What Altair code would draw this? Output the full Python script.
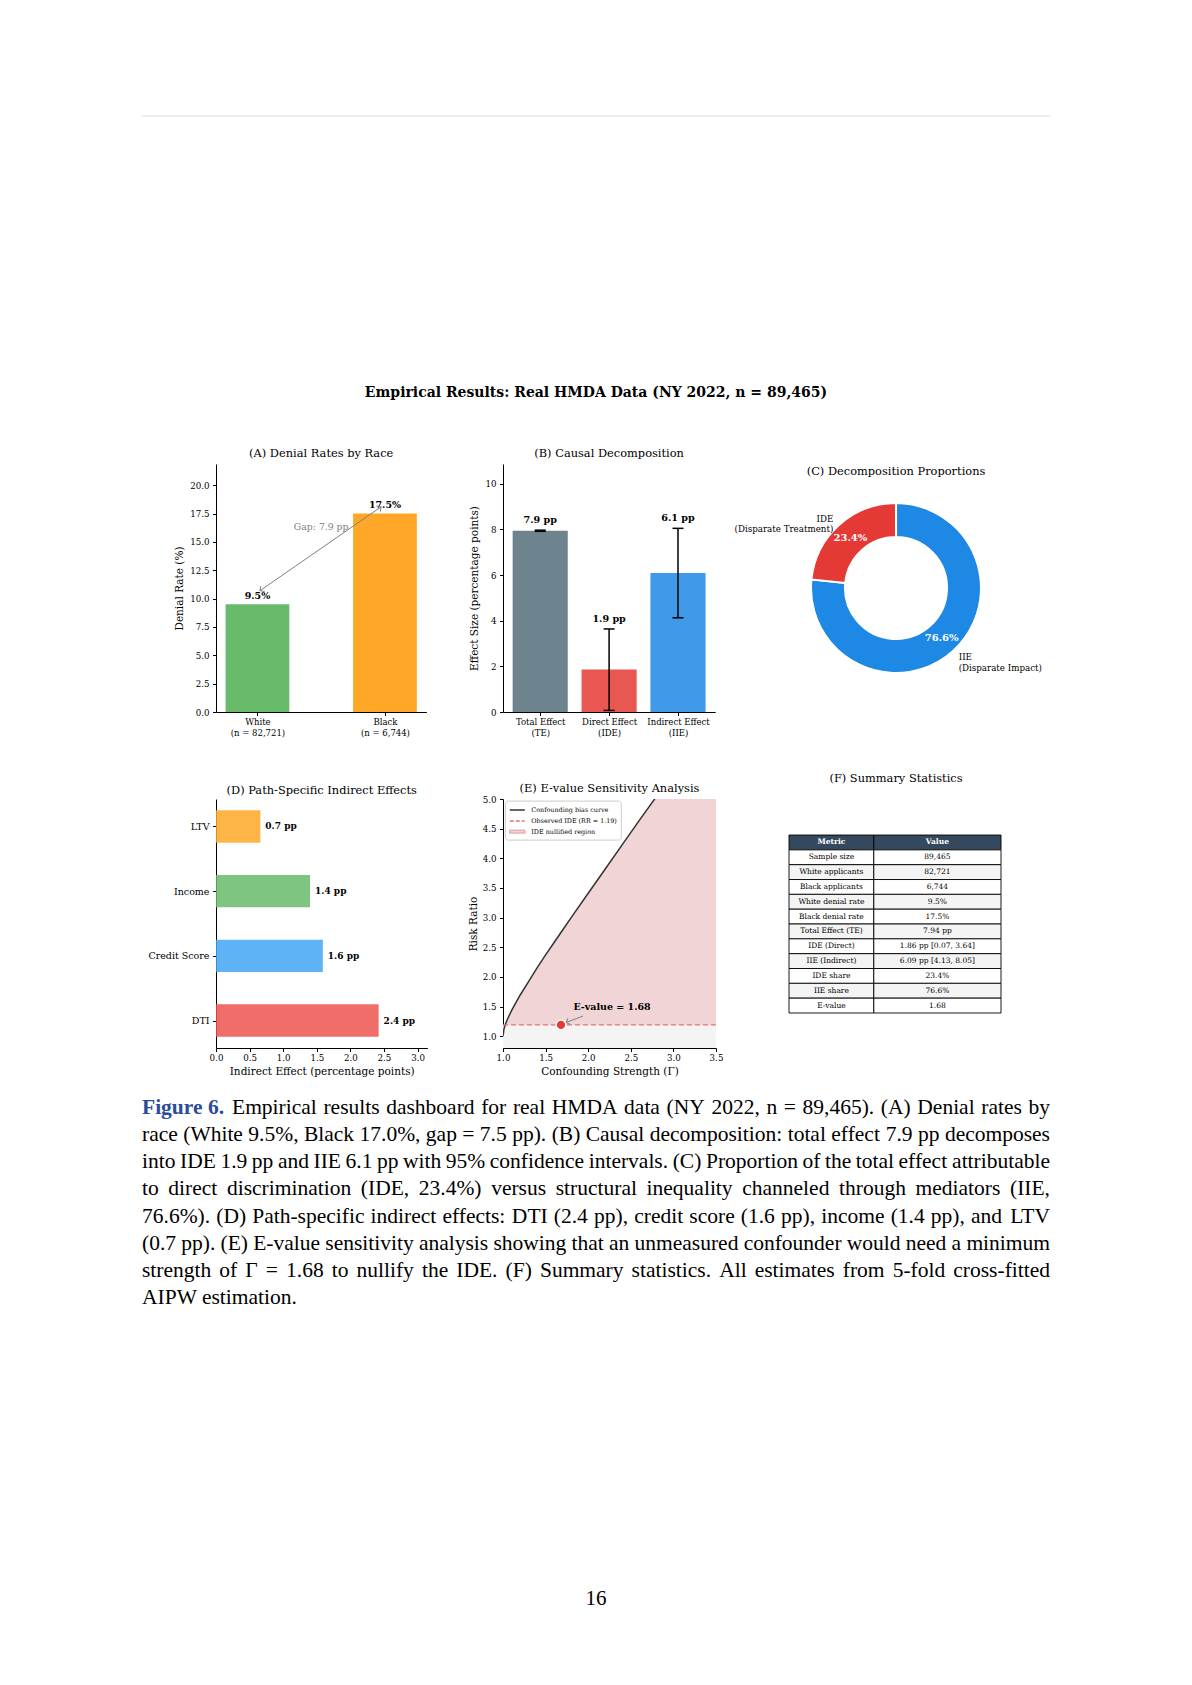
import altair as alt
import pandas as pd

FONT = "DejaVu Serif"
CAP_FONT = "Liberation Serif"
SMALL = 8.7

# ----------------------------- data -----------------------------
main_title = "Empirical Results: Real HMDA Data (NY 2022, n = 89,465)"

# (A) denial rates
races = ["White", "Black"]
race_counts = ["(n = 82,721)", "(n = 6,744)"]
denial_rates = [9.5, 17.5]
race_colors = ["#4CAF50", "#FF9800"]
gap_label = "Gap: 7.9 pp"
gap_arrow_x = [0.02, 0.97]
gap_arrow_y = [10.7, 18.1]
gap_label_xy = [0.5, 16.3]

# (B) causal decomposition
effect_names = ["Total Effect", "Direct Effect", "Indirect Effect"]
effect_codes = ["(TE)", "(IDE)", "(IIE)"]
effect_vals = [7.94, 1.86, 6.09]
effect_lo = [7.92, 0.07, 4.13]
effect_hi = [7.97, 3.64, 8.05]
effect_colors = ["#546E7A", "#E53935", "#1E88E5"]

# (C) proportions
share_names = ["IIE\n(Disparate Impact)", "IDE\n(Disparate Treatment)"]
share_vals = [76.6, 23.4]
share_colors = ["#1E88E5", "#E53935"]

# (D) path-specific effects (bottom to top)
path_names = ["DTI", "Credit Score", "Income", "LTV"]
path_vals = [2.42, 1.59, 1.40, 0.66]
path_colors = ["#EF5350", "#42A5F5", "#66BB6A", "#FFA726"]

# (E) E-value sensitivity (curve)
gamma = [1.0, 1.01, 1.03, 1.06, 1.10, 1.15, 1.20, 1.30, 1.40, 1.50, 1.60,
         1.70, 1.80, 2.00, 2.20, 2.40, 2.60, 2.80, 3.00, 3.20, 3.50]
bias = [1.00, 1.11, 1.21, 1.31, 1.43, 1.56, 1.69, 1.92, 2.15, 2.37, 2.58,
        2.79, 3.00, 3.41, 3.82, 4.23, 4.64, 5.04, 5.45, 5.86, 6.46]
rr_obs = 1.19
e_value = 1.68
legend_items = ["Confounding bias curve", "Observed IDE (RR = 1.19)", "IDE nullified region"]
evalue_label = "E-value = 1.68"
evalue_label_xy = [2.28, 1.49]
evalue_arrow = [1.94, 1.34, 1.74, 1.23]

# (F) summary table
table_header = ["Metric", "Value"]
metrics = ["Sample size", "White applicants", "Black applicants", "White denial rate",
           "Black denial rate", "Total Effect (TE)", "IDE (Direct)", "IIE (Indirect)",
           "IDE share", "IIE share", "E-value"]
metric_values = ["89,465", "82,721", "6,744", "9.5%", "17.5%", "7.94 pp",
                 "1.86 pp [0.07, 3.64]", "6.09 pp [4.13, 8.05]", "23.4%", "76.6%", "1.68"]

# caption
caption_label = "Figure 6."
caption_lines = [
    "Empirical results dashboard for real HMDA data (NY 2022, n = 89,465). (A) Denial rates by",
    "race (White 9.5%, Black 17.0%, gap = 7.5 pp). (B) Causal decomposition: total effect 7.9 pp decomposes",
    "into IDE 1.9 pp and IIE 6.1 pp with 95% confidence intervals. (C) Proportion of the total effect attributable",
    "to direct discrimination (IDE, 23.4%) versus structural inequality channeled through mediators (IIE,",
    "76.6%). (D) Path-specific indirect effects: DTI (2.4 pp), credit score (1.6 pp), income (1.4 pp), and LTV",
    "(0.7 pp). (E) E-value sensitivity analysis showing that an unmeasured confounder would need a minimum",
    "strength of \u0393 = 1.68 to nullify the IDE. (F) Summary statistics. All estimates from 5-fold cross-fitted",
    "AIPW estimation.",
]
page_number = "16"

CHEV = "M -1 1 L 0 0 L 1 1"
LEG_LINE = "M -1.5 0 L 1.5 0"
LEG_RECT = "M -1.5 -0.28 L 1.5 -0.28 L 1.5 0.28 L -1.5 0.28 Z"

# Times-compatible advance widths (per 1000 em), used only to justify the caption lines
TIMES_W = {" ": 250, "!": 333, "%": 833, "(": 333, ")": 333, ",": 250, "-": 333, ".": 250,
           ":": 278, ";": 278, "=": 564, "[": 333, "]": 333, "\u0393": 578,
           "A": 722, "B": 667, "C": 667, "D": 722, "E": 611, "F": 556, "G": 722, "H": 722,
           "I": 333, "J": 389, "K": 722, "L": 611, "M": 889, "N": 722, "O": 722, "P": 556,
           "Q": 722, "R": 667, "S": 556, "T": 611, "U": 722, "V": 722, "W": 944, "X": 722,
           "Y": 722, "Z": 611, "a": 444, "b": 500, "c": 444, "d": 500, "e": 444, "f": 333,
           "g": 500, "h": 500, "i": 278, "j": 278, "k": 500, "l": 278, "m": 778, "n": 500,
           "o": 500, "p": 500, "q": 500, "r": 333, "s": 389, "t": 278, "u": 500, "v": 500,
           "w": 722, "x": 500, "y": 500, "z": 444}


# ----------------------------- helpers -----------------------------
def axis(**kw):
    base = dict(grid=False, labelFlush=False, labelOverlap=False)
    base.update(kw)
    return alt.Axis(**base)


def cat_expr(lines_list):
    expr = "''"
    for i in reversed(range(len(lines_list))):
        arr = "[" + ", ".join("'" + s + "'" for s in lines_list[i]) + "]"
        expr = f"datum.value == {i} ? {arr} : ({expr})"
    return expr


def ptitle(text, offset):
    return alt.TitleParams(text=text, font=FONT, fontSize=11.4, fontWeight="normal",
                           color="black", anchor="middle", offset=offset, baseline="alphabetic")


def spacer(w, h):
    return alt.Chart(pd.DataFrame({"k": [0]})).mark_point(opacity=0, size=0).encode(
        x=alt.value(0), y=alt.value(0)).properties(width=w, height=h)


def text_width(s, size):
    return sum(TIMES_W.get(ch, 500) for ch in s) / 1000.0 * size


# ----------------------------- (A) -----------------------------
wA, hA = 210.4, 248
dfA = pd.DataFrame({"pos": [0.0, 1.0], "rate": denial_rates, "color": race_colors,
                    "label": [f"{v:.1f}%" for v in denial_rates]})
dfA["x1"] = dfA["pos"] - 0.25
dfA["x2"] = dfA["pos"] + 0.25
dfA["zero"] = 0.0
xA = alt.Scale(domain=[-0.325, 1.325], nice=False, zero=False)
yA = alt.Scale(domain=[0, 21.875], nice=False)
axA_x = axis(values=[0, 1], labelExpr=cat_expr([[r, c] for r, c in zip(races, race_counts)]),
             title=None, labelFontSize=8.5, labelLineHeight=10.5, labelPadding=2)
axA_y = axis(values=[0, 2.5, 5, 7.5, 10, 12.5, 15, 17.5, 20], format=".1f",
             title="Denial Rate (%)", titlePadding=5)
XA = lambda f: alt.X(f, scale=xA, axis=axA_x)
YA = lambda f: alt.Y(f, scale=yA, axis=axA_y)

barsA = alt.Chart(dfA).mark_rect(opacity=0.85).encode(
    x=XA("x1:Q"), x2="x2:Q", y=YA("zero:Q"), y2="rate:Q", color=alt.Color("color:N", scale=None))
textA = alt.Chart(dfA).mark_text(font=FONT, fontWeight="bold", fontSize=9.5, baseline="alphabetic", dy=-5.5).encode(
    x=XA("pos:Q"), y=YA("rate:Q"), text="label:N")
dfGap = pd.DataFrame({"x1": [gap_arrow_x[0]], "x2": [gap_arrow_x[1]],
                      "y1": [gap_arrow_y[0]], "y2": [gap_arrow_y[1]]})
gapLine = alt.Chart(dfGap).mark_rule(color="#808080", strokeWidth=1).encode(
    x=XA("x1:Q"), x2="x2:Q", y=YA("y1:Q"), y2="y2:Q")
dfHeads = pd.DataFrame({"x": gap_arrow_x, "y": gap_arrow_y, "ang": [235, 55]})
gapHeads = alt.Chart(dfHeads).mark_point(shape=CHEV, filled=False, size=45, strokeWidth=1,
                                         color="#808080", opacity=1).encode(
    x=XA("x:Q"), y=YA("y:Q"), angle=alt.Angle("ang:Q", scale=None))
gapText = alt.Chart(pd.DataFrame({"x": [gap_label_xy[0]], "y": [gap_label_xy[1]], "t": [gap_label]})).mark_text(
    font=FONT, fontSize=9.3, color="#808080", baseline="middle").encode(x=XA("x:Q"), y=YA("y:Q"), text="t:N")
chartA = alt.layer(barsA, textA, gapLine, gapHeads, gapText).properties(
    width=wA, height=hA, title=ptitle("(A) Denial Rates by Race", -4))

# ----------------------------- (B) -----------------------------
wB, hB = 212.2, 248
dfB = pd.DataFrame({"pos": [0.0, 1.0, 2.0], "val": effect_vals, "lo": effect_lo, "hi": effect_hi,
                    "color": effect_colors, "label": [f"{v:.1f} pp" for v in effect_vals]})
dfB["x1"] = dfB["pos"] - 0.4
dfB["x2"] = dfB["pos"] + 0.4
dfB["zero"] = 0.0
xB = alt.Scale(domain=[-0.54, 2.54], nice=False, zero=False)
yB = alt.Scale(domain=[0, 10.87], nice=False)
axB_x = axis(values=[0, 1, 2], labelExpr=cat_expr([[n, c] for n, c in zip(effect_names, effect_codes)]),
             title=None, labelFontSize=8.5, labelLineHeight=10.5, labelPadding=2)
axB_y = axis(values=[0, 2, 4, 6, 8, 10], format="d", title="Effect Size (percentage points)", titlePadding=5.5)
XB = lambda f: alt.X(f, scale=xB, axis=axB_x)
YB = lambda f: alt.Y(f, scale=yB, axis=axB_y)
barsB = alt.Chart(dfB).mark_rect(opacity=0.85).encode(
    x=XB("x1:Q"), x2="x2:Q", y=YB("zero:Q"), y2="val:Q", color=alt.Color("color:N", scale=None))
errB = alt.Chart(dfB).mark_rule(color="black", strokeWidth=1.5).encode(x=XB("pos:Q"), y=YB("lo:Q"), y2="hi:Q")
capLo = alt.Chart(dfB).mark_point(shape="stroke", size=121, strokeWidth=1.5, color="black", opacity=1).encode(
    x=XB("pos:Q"), y=YB("lo:Q"))
capHi = alt.Chart(dfB).mark_point(shape="stroke", size=121, strokeWidth=1.5, color="black", opacity=1).encode(
    x=XB("pos:Q"), y=YB("hi:Q"))
textB = alt.Chart(dfB).mark_text(font=FONT, fontWeight="bold", fontSize=9.6, baseline="alphabetic", dy=-7).encode(
    x=XB("pos:Q"), y=YB("hi:Q"), text="label:N")
chartB = alt.layer(barsB, errB, capLo, capHi, textB).properties(
    width=wB, height=hB, title=ptitle("(B) Causal Decomposition", -4))

# ----------------------------- (C) -----------------------------
wC, hC = 248, 248
dfC = pd.DataFrame({"name": share_names, "val": share_vals, "ord": [0, 1], "color": share_colors,
                    "pct": [f"{v:.1f}%" for v in share_vals]})
dfC["lab_left"] = [share_names[0], ""]
dfC["lab_right"] = ["", share_names[1]]
baseC = alt.Chart(dfC).encode(theta=alt.Theta("val:Q", stack=True), order=alt.Order("ord:Q"))
arcs = baseC.mark_arc(outerRadius=85, innerRadius=51, stroke="white", strokeWidth=2).encode(
    color=alt.Color("color:N", scale=None))
pctC = baseC.mark_text(radius=68, font=FONT, fontWeight="bold", fontSize=10, color="white").encode(text="pct:N")
labL = baseC.mark_text(radius=93.5, font=FONT, fontSize=SMALL, align="left", baseline="middle",
                       lineBreak="\n", lineHeight=10.5).encode(text="lab_left:N")
labR = baseC.mark_text(radius=93.5, font=FONT, fontSize=SMALL, align="right", baseline="middle",
                       lineBreak="\n", lineHeight=10.5).encode(text="lab_right:N")
chartC = alt.layer(arcs, pctC, labL, labR).properties(
    width=wC, height=hC, title=ptitle("(C) Decomposition Proportions", -22))

# ----------------------------- (D) -----------------------------
wD, hD = 211.4, 249
dfD = pd.DataFrame({"pos": [0.0, 1.0, 2.0, 3.0], "val": path_vals, "color": path_colors,
                    "label": [f"{v:.1f} pp" for v in path_vals]})
dfD["y1"] = dfD["pos"] - 0.25
dfD["y2"] = dfD["pos"] + 0.25
dfD["zero"] = 0.0
xD = alt.Scale(domain=[0, 3.146], nice=False)
yD = alt.Scale(domain=[-0.425, 3.425], nice=False, zero=False)
axD_x = axis(values=[0, 0.5, 1, 1.5, 2, 2.5, 3], format=".1f",
             title="Indirect Effect (percentage points)", titlePadding=4)
axD_y = axis(values=[0, 1, 2, 3], labelExpr=cat_expr([[n] for n in path_names]), title=None,
             labelFontSize=9.5)
XD = lambda f: alt.X(f, scale=xD, axis=axD_x)
YD = lambda f: alt.Y(f, scale=yD, axis=axD_y)
barsD = alt.Chart(dfD).mark_rect(opacity=0.85).encode(
    x=XD("zero:Q"), x2="val:Q", y=YD("y1:Q"), y2="y2:Q", color=alt.Color("color:N", scale=None))
textD = alt.Chart(dfD).mark_text(font=FONT, fontWeight="bold", fontSize=9, align="left", dx=5,
                                 baseline="middle").encode(x=XD("val:Q"), y=YD("pos:Q"), text="label:N")
chartD = alt.layer(barsD, textD).properties(
    width=wD, height=hD, title=ptitle("(D) Path-Specific Indirect Effects", -6))

# ----------------------------- (E) -----------------------------
wE, hE = 213, 249
xE = alt.Scale(domain=[1.0, 3.5], nice=False, zero=False)
yE = alt.Scale(domain=[0.8, 5.0], nice=False, zero=False)
axE_x = axis(values=[1.0, 1.5, 2.0, 2.5, 3.0, 3.5], format=".1f",
             title="Confounding Strength (\u0393)", titlePadding=4)
axE_y = axis(values=[1.0, 1.5, 2.0, 2.5, 3.0, 3.5, 4.0, 4.5, 5.0], format=".1f",
             title="Risk Ratio", titlePadding=3.5)
XE = lambda f: alt.X(f, scale=xE, axis=axE_x)
YE = lambda f: alt.Y(f, scale=yE, axis=axE_y)
dfCurve = pd.DataFrame({"g": gamma, "b": bias})
dfCurve["obs"] = rr_obs
bandE = alt.Chart(pd.DataFrame({"lo": [0.8], "hi": [rr_obs]})).mark_rect(color="#F4F4F4").encode(
    y=YE("lo:Q"), y2="hi:Q")
areaE = alt.Chart(dfCurve).mark_area(clip=True, color="#F1D5D6", opacity=1).encode(
    x=XE("g:Q"), y=YE("b:Q"), y2="obs:Q")
lineE = alt.Chart(dfCurve).mark_line(clip=True, color="#333333", strokeWidth=1.5).encode(
    x=XE("g:Q"), y=YE("b:Q"))
ruleE = alt.Chart(pd.DataFrame({"obs": [rr_obs]})).mark_rule(color="#E57373", strokeDash=[5, 3],
                                                            strokeWidth=1.2).encode(y=YE("obs:Q"))
ptE = alt.Chart(pd.DataFrame({"g": [e_value], "obs": [rr_obs]})).mark_point(
    filled=True, shape="circle", size=95, fill="#E53935", stroke="white", strokeWidth=1.5, opacity=1).encode(
    x=XE("g:Q"), y=YE("obs:Q"))
dfArr = pd.DataFrame({"x1": [evalue_arrow[0]], "y1": [evalue_arrow[1]],
                      "x2": [evalue_arrow[2]], "y2": [evalue_arrow[3]]})
arrE = alt.Chart(dfArr).mark_rule(color="#808080", strokeWidth=1).encode(
    x=XE("x1:Q"), x2="x2:Q", y=YE("y1:Q"), y2="y2:Q")
headE = alt.Chart(dfArr).mark_point(shape=CHEV, filled=False, size=40, strokeWidth=1, color="#808080",
                                    opacity=1, angle=250).encode(x=XE("x2:Q"), y=YE("y2:Q"))
txtE = alt.Chart(pd.DataFrame({"x": [evalue_label_xy[0]], "y": [evalue_label_xy[1]], "t": [evalue_label]})).mark_text(
    font=FONT, fontWeight="bold", fontSize=9.5, baseline="middle").encode(x=XE("x:Q"), y=YE("y:Q"), text="t:N")
legend_def = alt.Legend(title=None, orient="none", legendX=362.8, legendY=684.6, padding=3.5, fillColor="white",
                        strokeColor="#CCCCCC", cornerRadius=3, labelFont=FONT, labelFontSize=6.4,
                        labelColor="black", symbolSize=100, symbolStrokeWidth=1.5, rowPadding=0.8,
                        labelOffset=8, symbolOffset=3)
dfLeg = pd.DataFrame({"item": legend_items, "g": [0.0] * 3, "b": [0.0] * 3})
legE = alt.Chart(dfLeg).mark_point(clip=True, filled=False, opacity=1).encode(
    x=XE("g:Q"), y=YE("b:Q"),
    stroke=alt.Stroke("item:N", scale=alt.Scale(domain=legend_items, range=["#333333", "#E57373", "#E6B3B4"]),
                      legend=legend_def),
    fill=alt.Fill("item:N", scale=alt.Scale(domain=legend_items, range=["transparent", "transparent", "#F1D5D6"]),
                  legend=legend_def),
    shape=alt.Shape("item:N", scale=alt.Scale(domain=legend_items, range=[LEG_LINE, LEG_LINE, LEG_RECT]),
                    legend=legend_def),
    strokeDash=alt.StrokeDash("item:N", scale=alt.Scale(domain=legend_items, range=[[1, 0], [4, 2], [1, 0]]),
                              legend=legend_def),
)
chartE = alt.layer(bandE, areaE, lineE, ruleE, arrE, headE, ptE, txtE, legE).properties(
    width=wE, height=hE, title=ptitle("(E) E-value Sensitivity Analysis", -8.6))

# ----------------------------- (F) -----------------------------
wF, hF = 248, 249
col_edges = [0.0, 0.4, 1.0]
recs = []
all_rows = [table_header] + [[m, v] for m, v in zip(metrics, metric_values)]
for r, row in enumerate(all_rows):
    for c, txt in enumerate(row):
        recs.append({"r0": r, "r1": r + 1, "rm": r + 0.5, "c0": col_edges[c], "c1": col_edges[c + 1],
                     "cm": (col_edges[c] + col_edges[c + 1]) / 2, "txt": txt,
                     "fill": "#34495E" if r == 0 else ("#F4F4F4" if r % 2 == 0 else "#FFFFFF"),
                     "head": 1 if r == 0 else 0})
dfF = pd.DataFrame(recs)
xF = alt.Scale(domain=[-0.0802, 1.0896], nice=False, zero=False)
yF = alt.Scale(domain=[-2.43, 14.36], nice=False, zero=False, reverse=True)
XF = lambda f: alt.X(f, scale=xF, axis=None)
YF = lambda f: alt.Y(f, scale=yF, axis=None)
cells = alt.Chart(dfF).mark_rect(stroke="black", strokeWidth=0.9).encode(
    x=XF("c0:Q"), x2="c1:Q", y=YF("r0:Q"), y2="r1:Q", fill=alt.Fill("fill:N", scale=None))
headTxt = alt.Chart(dfF).transform_filter("datum.head == 1").mark_text(
    font=FONT, fontSize=7.5, fontWeight="bold", color="white", baseline="middle").encode(
    x=XF("cm:Q"), y=YF("rm:Q"), text="txt:N")
bodyTxt = alt.Chart(dfF).transform_filter("datum.head == 0").mark_text(
    font=FONT, fontSize=7.5, color="black", baseline="middle").encode(
    x=XF("cm:Q"), y=YF("rm:Q"), text="txt:N")
chartF = alt.layer(cells, headTxt, bodyTxt).properties(
    width=wF, height=hF, title=ptitle("(F) Summary Statistics", 6))

# ----------------------------- page pieces -----------------------------
PAGE_W = 908
C0 = 73.5
dummy = pd.DataFrame({"k": [0]})
headRule = alt.Chart(dummy).mark_rule(color="#DDDDDD", strokeWidth=1).encode(
    x=alt.value(0), x2=alt.value(PAGE_W), y=alt.value(0))
headTitle = alt.Chart(dummy).mark_text(text=main_title, font=FONT, fontSize=14, fontWeight="bold",
                                       baseline="middle").encode(x=alt.value(PAGE_W / 2), y=alt.value(277))
header = alt.layer(headRule, headTitle).properties(width=C0, height=348)

# justified caption: each word placed along the line
CAP_SIZE = 21.5
FIRST_INDENT = 90
word_recs = []
for li, line in enumerate(caption_lines):
    words = line.split(" ")
    start = FIRST_INDENT if li == 0 else 0
    if li == len(caption_lines) - 1:
        word_recs.append({"line": li, "w": line, "x": start, "last": 0})
        continue
    widths = [text_width(w, CAP_SIZE) for w in words]
    gap = (PAGE_W - start - sum(widths)) / (len(words) - 1)
    x = start
    for wi, (w, wd) in enumerate(zip(words, widths)):
        if wi == len(words) - 1:
            word_recs.append({"line": li, "w": w, "x": PAGE_W, "last": 1})
        else:
            word_recs.append({"line": li, "w": w, "x": x, "last": 0})
        x += wd + gap
capWords = pd.DataFrame(word_recs)
capY = alt.Scale(domain=list(range(len(caption_lines))), padding=0.5)
capX = alt.Scale(domain=[0, PAGE_W], range=[0, PAGE_W], nice=False, zero=False)
capLabel = alt.Chart(pd.DataFrame({"line": [0], "txt": [caption_label]})).mark_text(
    font=CAP_FONT, fontSize=CAP_SIZE, fontWeight="bold", color="#2B4C9B", align="left", baseline="middle").encode(
    x=alt.value(0), y=alt.Y("line:O", scale=capY, axis=None), text="txt:N")
capLeft = alt.Chart(capWords).transform_filter("datum.last == 0").mark_text(
    font=CAP_FONT, fontSize=CAP_SIZE, align="left", baseline="middle").encode(
    x=alt.X("x:Q", scale=capX, axis=None), y=alt.Y("line:O", scale=capY, axis=None), text="w:N")
capRight = alt.Chart(capWords).transform_filter("datum.last == 1").mark_text(
    font=CAP_FONT, fontSize=CAP_SIZE, align="right", baseline="middle").encode(
    x=alt.X("x:Q", scale=capX, axis=None), y=alt.Y("line:O", scale=capY, axis=None), text="w:N")
caption = alt.layer(capLabel, capLeft, capRight).properties(width=C0, height=218)

pageNum = alt.Chart(dummy).mark_text(text=page_number, font=CAP_FONT, fontSize=21, baseline="middle").encode(
    x=alt.value(PAGE_W / 2), y=alt.value(11)).properties(width=C0, height=22)


def filler_row(first):
    return [first] + [spacer(1, 1) for _ in range(5)]


grid = []
grid += filler_row(header)
grid += [spacer(C0, 1), chartA, spacer(74.4, 1), chartB, spacer(55.5, 1), chartC]
grid += filler_row(spacer(C0, 87))
grid += [spacer(C0, 1), chartD, spacer(74.4, 1), chartE, spacer(55.5, 1), chartF]
grid += filler_row(spacer(C0, 46))
grid += filler_row(caption)
grid += filler_row(spacer(C0, 276))
grid += filler_row(pageNum)

chart = alt.concat(*grid, columns=6, spacing=0, bounds="flush").properties(
    padding={"left": 133, "top": 107, "right": 5, "bottom": 5}
).configure_view(stroke=None).configure_axis(
    labelFont=FONT, titleFont=FONT, labelFontSize=SMALL, titleFontSize=10.5, titleFontWeight="normal",
    labelColor="black", titleColor="black", domainColor="black", tickColor="black", tickSize=3.5,
    domainWidth=1, tickWidth=1, labelPadding=2, grid=False).configure_axisY(labelPadding=3.5)

chart.save("out.html", embed_options={"renderer": "svg", "actions": False})
